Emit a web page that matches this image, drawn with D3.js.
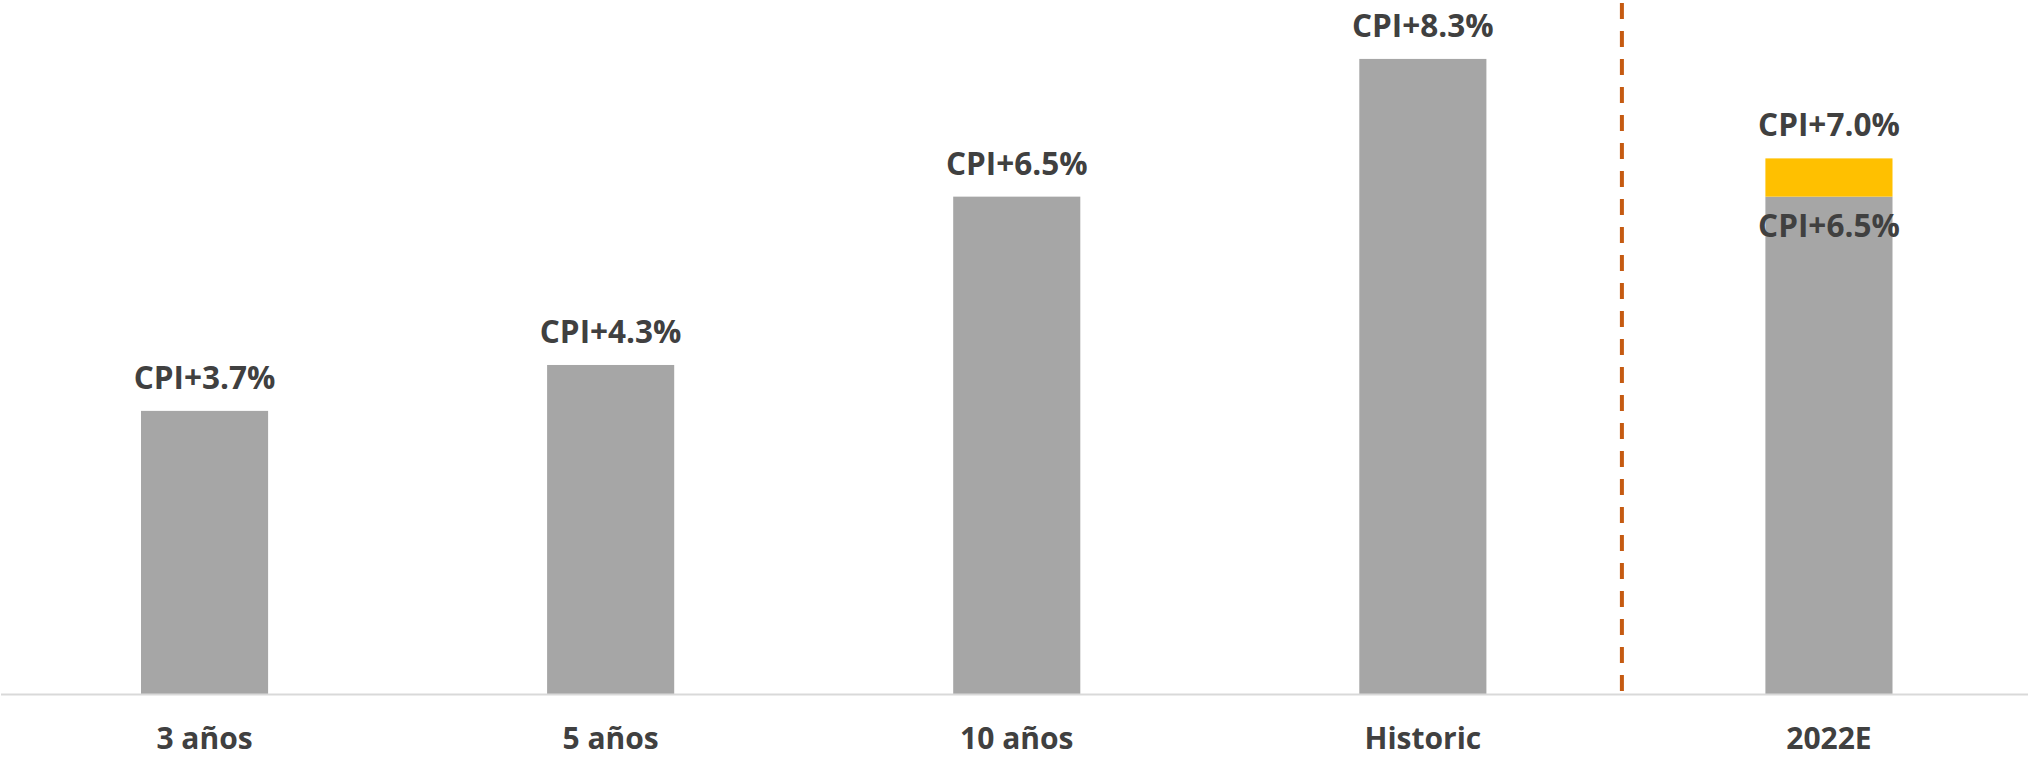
<!DOCTYPE html>
<html>
<head>
<meta charset="utf-8">
<script src="https://cdn.jsdelivr.net/npm/d3@7"></script>
<style>
  html, body { margin: 0; padding: 0; background: #ffffff; }
  svg { display: block; }
  text { font-family: "Open Sans", "DejaVu Sans", sans-serif; font-weight: 700; fill: #404040; }
</style>
</head>
<body>
<svg id="chart" width="2028" height="759"></svg>
<script>
// Return horizons: base return above CPI, plus the extra expected for 2022
const categories = ["3 años", "5 años", "10 años", "Historic", "2022E"];
const baseValues = [3.7, 4.3, 6.5, 8.3, 6.5];
const extraValues = [0, 0, 0, 0, 0.5];
const separatorBefore = "2022E";

const fmt = v => "CPI+" + d3.format(".1f")(v) + "%";

const width = 2028, height = 759;
const svg = d3.select("#chart");

const baselineY = 694;
const x = d3.scaleBand()
  .domain(categories)
  .range([1.5, 2032])
  .paddingInner(0.687)
  .paddingOuter(0.3435);

const y = d3.scaleLinear()
  .domain([0, 9.07])
  .range([baselineY, 0]);

const data = categories.map((c, i) => ({
  cat: c,
  base: baseValues[i],
  extra: extraValues[i],
  total: baseValues[i] + extraValues[i]
}));

// Base bars (grey)
svg.append("g").selectAll("rect")
  .data(data)
  .join("rect")
  .attr("x", d => x(d.cat))
  .attr("width", x.bandwidth())
  .attr("y", d => y(d.base))
  .attr("height", d => y(0) - y(d.base))
  .attr("fill", "#a6a6a6");

// Stacked extra segment (yellow)
svg.append("g").selectAll("rect")
  .data(data.filter(d => d.extra > 0))
  .join("rect")
  .attr("x", d => x(d.cat))
  .attr("width", x.bandwidth())
  .attr("y", d => y(d.total))
  .attr("height", d => y(d.base) - y(d.total))
  .attr("fill", "#ffc000");

// Category axis
const axis = svg.append("g")
  .attr("transform", `translate(0,${baselineY})`)
  .call(d3.axisBottom(x).tickSize(0).tickPadding(0));
axis.select(".domain").remove();
axis.selectAll("text")
  .attr("y", 55)
  .attr("dy", null)
  .style("font-size", "30px")
  .attr("fill", "#404040");

svg.append("line")
  .attr("x1", 1).attr("x2", width)
  .attr("y1", baselineY + 0.5).attr("y2", baselineY + 0.5)
  .attr("stroke", "#d9d9d9")
  .attr("stroke-width", 2);

// Value labels above each bar
svg.append("g").selectAll("text")
  .data(data)
  .join("text")
  .attr("x", d => x(d.cat) + x.bandwidth() / 2)
  .attr("y", d => y(d.total) - 22)
  .attr("text-anchor", "middle")
  .style("font-size", "31.5px")
  .text(d => fmt(d.total));

// Base value label inside the stacked bar
svg.append("g").selectAll("text")
  .data(data.filter(d => d.extra > 0))
  .join("text")
  .attr("x", d => x(d.cat) + x.bandwidth() / 2)
  .attr("y", d => y(d.base) + 40)
  .attr("text-anchor", "middle")
  .style("font-size", "31.5px")
  .text(d => fmt(d.base));

// Dashed separator before the estimate
const sepX = x(separatorBefore) - x.step() * x.paddingInner() / 2 - 4;
svg.append("line")
  .attr("x1", sepX).attr("x2", sepX)
  .attr("y1", 3).attr("y2", baselineY)
  .attr("stroke", "#c55a11")
  .attr("stroke-width", 4)
  .attr("stroke-dasharray", "16,12");
</script>
</body>
</html>
